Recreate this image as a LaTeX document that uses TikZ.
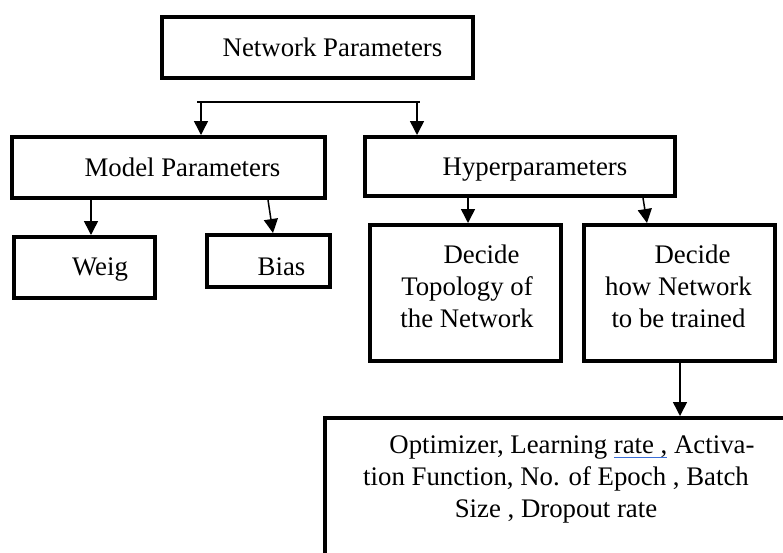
\documentclass[tikz,border=0pt]{standalone}
\usepackage{fontspec}
\setmainfont{Liberation Serif}
\usetikzlibrary{arrows.meta}
\definecolor{ulblue}{HTML}{3B6FD8}
\newcommand\spellul[1]{\setbox0\hbox{#1}\rlap{\textcolor{ulblue}{\rule[-4.5pt]{\wd0}{1.6pt}}}\box0\relax}
\tikzset{
  box/.style={draw, line width=4pt, inner sep=0pt},
  txt/.style={inner sep=0pt, anchor=base, align=center, font=\fontsize{26.8}{31.7}\selectfont},
  arr/.style={line width=1.5pt, -{Triangle[width=14pt,length=14pt]}},
  link/.style={line width=1.5pt}
}
\begin{document}
\begin{tikzpicture}[x=1pt,y=-1pt]
\useasboundingbox (0,0) rectangle (783,552);
\clip (0,0) rectangle (783,552);
% boxes
\node[box, minimum width=311pt, minimum height=61pt] (np) at (317.5,47.5) {};
\node[box, minimum width=313pt, minimum height=61pt] (mp) at (168.5,167.5) {};
\node[box, minimum width=310pt, minimum height=59pt] (hp) at (520,166.5) {};
\node[box, minimum width=141pt, minimum height=61pt] (wg) at (84.5,267.5) {};
\node[box, minimum width=123pt, minimum height=52pt] (bs) at (268.5,261) {};
\node[box, minimum width=191pt, minimum height=136pt] (tp) at (465.5,293) {};
\node[box, minimum width=191pt, minimum height=136pt] (tr) at (679.5,293) {};
\node[box, minimum width=483pt, minimum height=160pt] (ob) at (566.5,498) {};
% texts
\node[txt] (tnp) at (332.5,56) {Network Parameters};
\node[txt] (tmp) at (182.5,176) {Model Parameters};
\node[txt] (thp) at (535,175) {Hyperparameters};
\node[txt] (twg) at (100,275) {Weig};
\node[txt] (tbs) at (281.5,275) {Bias};
\node[txt, anchor=north] (ttp) at (467,245) {\hspace*{29pt}Decide\\Topology of\\the Network};
\node[txt, anchor=north] (ttr) at (678.5,245) {\hspace*{28pt}Decide\\how Network\\to be trained};
\node[txt, anchor=north] (tob) at (556,436) {\hspace*{32pt}Optimizer, Learning \spellul{rate ,} Activa-\\tion Function, No. of Epoch , Batch\\Size , Dropout rate};
% connectors
\coordinate (bl) at (201,102);
\coordinate (br) at (417,102);
\draw[link] ([xshift=-4pt]bl) -- ([xshift=3pt]br);
\draw[arr] (bl) -- (bl |- mp.north);
\draw[arr] (br) -- (br |- hp.north);
\draw[arr] ([xshift=-77.5pt]mp.south) -- ([xshift=6.5pt]wg.north);
\draw[arr] ([xshift=99.5pt]mp.south) -- ([xshift=4.5pt]bs.north);
\draw[arr] ([xshift=-52pt]hp.south) -- ([xshift=2.5pt]tp.north);
\draw[arr] ([xshift=123pt]hp.south) -- ([xshift=-32.5pt]tr.north);
\draw[arr] ([xshift=0.5pt]tr.south) -- ([xshift=113.5pt]ob.north);
\end{tikzpicture}
\end{document}
